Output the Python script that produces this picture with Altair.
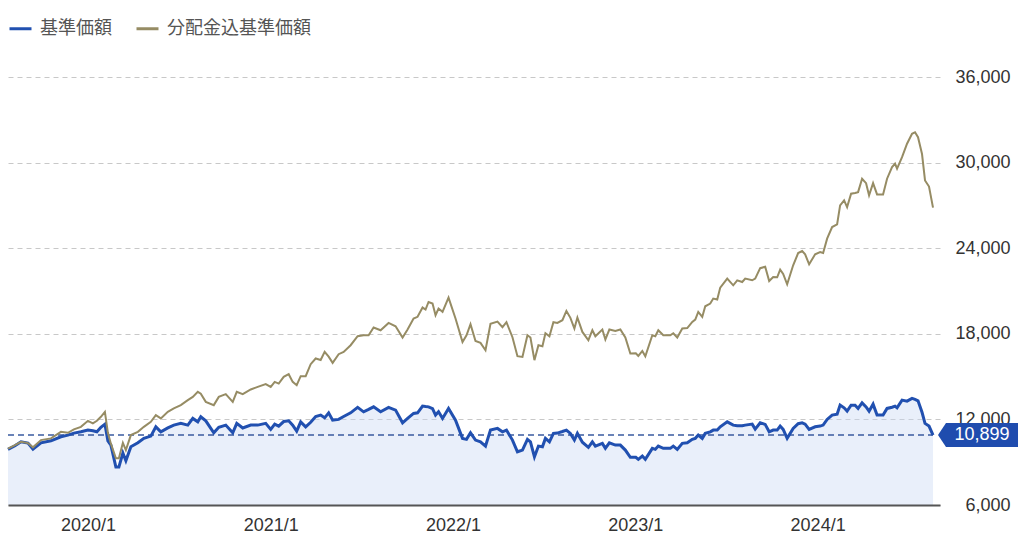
import altair as alt
import pandas as pd

# ---- data ----
dates = [
    "2019-07-25", "2019-08-08", "2019-08-20", "2019-09-03", "2019-09-13", "2019-09-29",
    "2019-10-19", "2019-11-08", "2019-11-22", "2019-12-04", "2019-12-18", "2020-01-01",
    "2020-01-11", "2020-01-19", "2020-01-27", "2020-02-04", "2020-02-10", "2020-02-16",
    "2020-02-26", "2020-03-03", "2020-03-11", "2020-03-17", "2020-03-27", "2020-04-10",
    "2020-04-22", "2020-05-06", "2020-05-16", "2020-05-26", "2020-06-09", "2020-06-21",
    "2020-07-05", "2020-07-19", "2020-07-29", "2020-08-08", "2020-08-14", "2020-08-24",
    "2020-09-09", "2020-09-19", "2020-10-03", "2020-10-17", "2020-10-25", "2020-11-06",
    "2020-11-22", "2020-12-06", "2020-12-22", "2021-01-01", "2021-01-09", "2021-01-17",
    "2021-01-27", "2021-02-06", "2021-02-14", "2021-02-22", "2021-03-02", "2021-03-12",
    "2021-03-22", "2021-04-01", "2021-04-11", "2021-04-19", "2021-04-27", "2021-05-05",
    "2021-05-17", "2021-05-27", "2021-06-10", "2021-06-24", "2021-07-06", "2021-07-16",
    "2021-07-26", "2021-08-09", "2021-08-25", "2021-09-08", "2021-09-22", "2021-10-02",
    "2021-10-14", "2021-10-22", "2021-11-01", "2021-11-07", "2021-11-13", "2021-11-21",
    "2021-11-27", "2021-12-03", "2021-12-11", "2021-12-23", "2022-01-06", "2022-01-20",
    "2022-01-28", "2022-02-05", "2022-02-15", "2022-02-25", "2022-03-07", "2022-03-17",
    "2022-03-31", "2022-04-10", "2022-04-18", "2022-04-30", "2022-05-10", "2022-05-20",
    "2022-05-30", "2022-06-05", "2022-06-13", "2022-06-21", "2022-06-29", "2022-07-05",
    "2022-07-13", "2022-07-21", "2022-07-29", "2022-08-08", "2022-08-16", "2022-08-24",
    "2022-09-01", "2022-09-07", "2022-09-17", "2022-09-29", "2022-10-07", "2022-10-13",
    "2022-10-27", "2022-11-02", "2022-11-10", "2022-11-22", "2022-12-02", "2022-12-12",
    "2022-12-22", "2023-01-02", "2023-01-07", "2023-01-15", "2023-01-21", "2023-02-04",
    "2023-02-10", "2023-02-16", "2023-02-26", "2023-03-12", "2023-03-18", "2023-03-26",
    "2023-04-05", "2023-04-15", "2023-04-25", "2023-05-01", "2023-05-07", "2023-05-15",
    "2023-05-21", "2023-05-31", "2023-06-06", "2023-06-14", "2023-06-20", "2023-07-04",
    "2023-07-16", "2023-07-24", "2023-08-03", "2023-08-09", "2023-08-23", "2023-08-29",
    "2023-09-08", "2023-09-18", "2023-09-26", "2023-10-04", "2023-10-12", "2023-10-18",
    "2023-10-24", "2023-11-01", "2023-11-13", "2023-11-23", "2023-12-01", "2023-12-07",
    "2023-12-15", "2023-12-27", "2024-01-06", "2024-01-12", "2024-01-20", "2024-01-30",
    "2024-02-09", "2024-02-15", "2024-02-23", "2024-02-29", "2024-03-08", "2024-03-16",
    "2024-03-22", "2024-03-30", "2024-04-07", "2024-04-13", "2024-04-21", "2024-04-29",
    "2024-05-11", "2024-05-19", "2024-05-29", "2024-06-04", "2024-06-08", "2024-06-18",
    "2024-06-28", "2024-07-08", "2024-07-14", "2024-07-20", "2024-07-28", "2024-08-03",
    "2024-08-11", "2024-08-19",
]

# 基準価額
nav = [
    9900, 10150, 10430, 10340, 9920, 10360,
    10500, 10780, 10900, 11040, 11130, 11250,
    11200, 11130, 11450, 11670, 10500, 10200,
    8660, 8660, 9640, 9100, 10080, 10360,
    10670, 10830, 11480, 11130, 11400, 11600,
    11720, 11600, 12070, 11830, 12180, 11900,
    11060, 11450, 11600, 11060, 11720, 11400,
    11600, 11600, 11720, 11300, 11670, 11530,
    11850, 11900, 11600, 11180, 11830, 11480,
    11800, 12200, 12300, 12110, 12460, 11950,
    12000, 12200, 12460, 12840, 12530, 12700,
    12880, 12530, 12840, 12650, 11760, 12070,
    12420, 12460, 12930, 12900, 12880, 12750,
    12300, 12530, 12070, 12770, 11950, 10670,
    10600, 11060, 10550, 10430, 10130, 11250,
    11370, 11130, 11250, 10550, 9730, 9850,
    10600, 10430, 9380, 10130, 10080, 10670,
    10430, 11020, 11040, 11150, 11250, 11020,
    10550, 11020, 10400, 10040, 10430, 10130,
    10320, 9970, 10360, 10200, 10200, 9850,
    9340, 9340, 9200, 9430, 9200, 9970,
    9900, 10130, 9970, 9970, 10130, 9900,
    10320, 10360, 10600, 10670, 10900, 10670,
    11020, 11130, 11250, 11250, 11480, 11830,
    11600, 11550, 11550, 11600, 11670, 11320,
    11760, 11650, 11130, 11250, 11250, 11530,
    11300, 10670, 11370, 11700, 11760, 11670,
    11300, 11480, 11530, 11600, 12000, 12300,
    12370, 13000, 12810, 12580, 13000, 13000,
    12770, 13160, 12880, 12580, 13070, 12300,
    12300, 12770, 12850, 12930, 12810, 13350,
    13280, 13470, 13400, 13300, 12500, 11720,
    11530, 10899,
]

# 分配金込基準価額
nav_total = [
    9950, 10200, 10430, 10340, 10040, 10550,
    10670, 11130, 11060, 11300, 11480, 11900,
    11720, 11900, 12180, 12530, 11060, 10300,
    9270, 9270, 10360, 9850, 10900, 11130,
    11480, 11830, 12300, 12070, 12530, 12770,
    13000, 13350, 13580, 13930, 13800, 13230,
    13000, 13580, 13770, 13230, 13930, 13770,
    14100, 14280, 14470, 14280, 14630, 14510,
    14980, 15170, 14630, 14400, 15030, 15030,
    15870, 16270, 16160, 16730, 16400, 15960,
    16570, 16730, 17200, 17830, 17900, 17900,
    18440, 18250, 18760, 18530, 17740, 18300,
    19070, 19190, 19840, 19700, 20230, 20120,
    19300, 19770, 19540, 20540, 19070, 17430,
    17900, 18670, 17500, 17360, 16850, 18700,
    18860, 18460, 18810, 17760, 16430, 16380,
    17900, 17740, 16150, 17200, 17130, 18040,
    17830, 18810, 18760, 18950, 19600, 19120,
    18370, 19140, 18130, 17550, 18250, 17830,
    18300, 17600, 18300, 18200, 18300, 17740,
    16620, 16640, 16450, 16800, 16430, 17900,
    17830, 18250, 17900, 17900, 18040, 17740,
    18370, 18400, 18830, 19000, 19530, 19180,
    19930, 20120, 20470, 20400, 21240, 21870,
    21400, 21750, 21630, 21870, 21750, 21870,
    22600, 22700, 21700, 21980, 21960, 22500,
    22200, 21470, 22800, 23660, 23800, 23570,
    22870, 23570, 23730, 23660, 24670, 25480,
    25670, 27000, 27350, 26880, 27820, 27870,
    27930, 28870, 28560, 27700, 28560, 27770,
    27770, 28870, 29680, 29920, 29570, 30380,
    31320, 32020, 32130, 31780, 30600, 28750,
    28320, 26840,
]

series_names = ["基準価額", "分配金込基準価額"]
y_ticks = [6000, 12000, 18000, 24000, 30000, 36000]
x_tick_years = [2020, 2021, 2022, 2023, 2024]

# ---- styles ----
BLUE = "#2150b0"
GOLD = "#968c64"
BADGE = "#1f4cae"
FONT = "Liberation Sans, Noto Sans CJK JP, sans-serif"

dt = pd.to_datetime(dates)
blue_df = pd.DataFrame({"date": dt, "value": nav, "series": series_names[0]})
gold_df = pd.DataFrame({"date": dt, "value": nav_total, "series": series_names[1]})
last_df = pd.DataFrame({"date": [dt[-1]], "start": [dt[0]], "value": [nav[-1]]})

x_scale = alt.Scale(domain=[alt.DateTime(year=2019, month=7, date=25),
                            alt.DateTime(year=2024, month=9, date=2)])
y_scale = alt.Scale(domain=[y_ticks[0], y_ticks[-1]], nice=False, zero=False)

x_axis = alt.Axis(
    values=[alt.DateTime(year=y, month=1, date=1) for y in x_tick_years],
    format="%Y/%-m", title=None, grid=False, ticks=False, tickSize=0,
    labelPadding=11, labelFontSize=18, labelColor="#333333", labelFont=FONT,
    domainColor="#555555", domainWidth=2, zindex=1,
)
y_axis = alt.Axis(
    orient="right", values=y_ticks, format=",.0f", title=None,
    domain=False, ticks=False, tickSize=0, labelAlign="right", labelPadding=70,
    labelFontSize=18, labelColor="#333333", labelFont=FONT,
    grid=True, gridColor="#c8c8c8", gridDash=[5, 4], gridWidth=1, zindex=0,
)


def xenc(field):
    return alt.X(f"{field}:T", scale=x_scale, axis=x_axis, title=None)


def yenc(field):
    return alt.Y(f"{field}:Q", scale=y_scale, axis=y_axis, title=None)


color = alt.Color(
    "series:N",
    scale=alt.Scale(domain=series_names, range=[BLUE, GOLD]),
    legend=alt.Legend(
        orient="none", legendX=0, legendY=-61, direction="horizontal", title=None,
        symbolType="stroke", symbolSize=484, symbolStrokeWidth=3,
        labelFontSize=18, labelColor="#555555", labelFont=FONT,
        labelOffset=7, columnPadding=18, padding=0, labelLimit=400,
    ),
)

area = alt.Chart(blue_df).mark_area(color="#c9d8f2", opacity=0.4).encode(
    x=xenc("date"), y=yenc("value"), y2=alt.datum(y_ticks[0])
)

rule = alt.Chart(last_df).mark_rule(color="#3a5ba0", strokeDash=[6, 4], strokeWidth=1.5).encode(
    x=xenc("start"), x2="date:T", y=yenc("value")
)

blue_line = alt.Chart(blue_df).mark_line(strokeWidth=3).encode(
    x=xenc("date"), y=yenc("value"), color=color
)

gold_line = alt.Chart(gold_df).mark_line(strokeWidth=2).encode(
    x=xenc("date"), y=yenc("value"), color=color
)

badge = alt.Chart(last_df).mark_point(
    shape="M0,0 L0.667,-1 L6.667,-1 L6.667,1 L0.667,1 Z",
    size=576, filled=True, color=BADGE, opacity=1, strokeWidth=0, xOffset=5,
).encode(x=xenc("date"), y=yenc("value"))

badge_text = alt.Chart(last_df).mark_text(
    align="center", baseline="middle", dx=49, color="white", fontSize=18, font=FONT,
).encode(x=xenc("date"), y=yenc("value"), text=alt.Text("value:Q", format=","))

chart = (
    alt.layer(area, rule, blue_line, gold_line, badge, badge_text)
    .properties(
        width=932, height=428,
        padding={"left": 8, "top": 77, "right": 84, "bottom": 41},
        autosize=alt.AutoSizeParams(type="none"),
        background="white",
    )
    .configure_view(stroke=None)
)

chart.save("out.html", embed_options={"renderer": "svg", "actions": False})
